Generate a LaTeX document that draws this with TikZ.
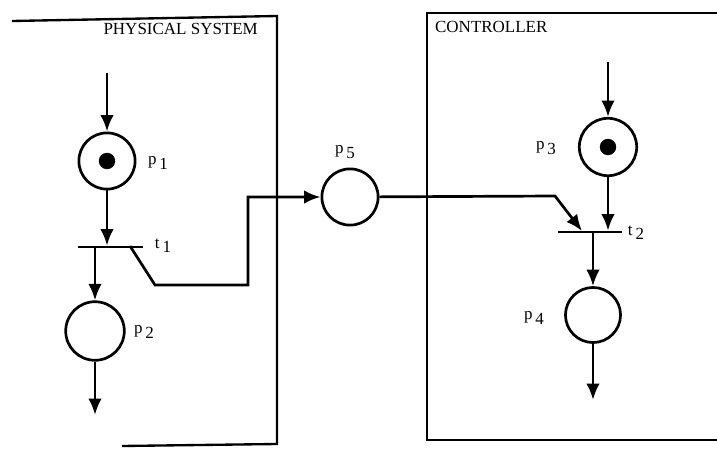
\documentclass[tikz,border=0pt]{standalone}
\usepackage{fontspec}
\setmainfont{Liberation Serif}
\usetikzlibrary{arrows.meta}
\newcommand{\sublab}[2]{#1\,\raisebox{-.55ex}{#2}}
\tikzset{
  place/.style={circle, draw, line width=2.3pt, minimum size=48pt, inner sep=0pt},
  token/.style={circle, fill=black, minimum width=14pt, minimum height=13pt, inner sep=0pt},
  trans/.style={rectangle, fill=black, minimum width=55pt, minimum height=2pt, inner sep=0pt},
  arc/.style={line width=2.3pt, -{Latex[length=14pt,width=11.5pt]}},
  frame/.style={line width=2pt},
  lab/.style={font=\fontsize{14.5}{16}\selectfont}
}
\begin{document}
\begin{tikzpicture}[x=0.03cm, y=-0.03cm]
\useasboundingbox (0,0) rectangle (717,450);
% the two boxes
\draw[frame] (12,21) -- (277,16) -- (277,444) -- (122,446);
\draw[frame] (717,13) -- (427,13) -- (427,440) -- (717,440);
\node[lab, anchor=base east] (phys) at (262,35) {PHYSICAL SYSTEM};
\node[lab, anchor=base west] (ctrl) at (431,33) {CONTROLLER};
% places and transitions
\node[place] (p1) at (107,161) {};
\node[token] at (p1) {};
\node[place, minimum size=50pt] (p2) at (95,331) {};
\node[place] (p5) at (350,197) {};
\node[place, minimum size=49pt] (p3) at (608,147) {};
\node[token] at (p3) {};
\node[place, minimum size=47pt] (p4) at (593,315) {};
\node[trans] (t1) at (110.5,247) {};
\node[trans] (t2) at (590,232) {};
% labels
\node[lab] (l1) at (158,163) {\sublab{p}{1}};
\node[lab] (l2) at (144,332) {\sublab{p}{2}};
\node[lab] (l5) at (345,152) {\sublab{p}{5}};
\node[lab] (l3) at (546,148) {\sublab{p}{3}};
\node[lab] (l4) at (534,318) {\sublab{p}{4}};
\node[lab] (lt1) at (163,246) {\sublab{t}{1}};
\node[lab] (lt2) at (636,233) {\sublab{t}{2}};
% arcs
\coordinate (in1) at (107,73);
\coordinate (out2) at (95,415);
\coordinate (in3) at (608,62);
\coordinate (out4) at (593,400);
\coordinate (k1) at (130,246);
\coordinate (k2) at (155,285);
\coordinate (k3) at (248,285);
\coordinate (k4) at (248,197);
\coordinate (k5) at (555,196);
\coordinate (k6) at (582,231);
\draw[arc] (in1) -- (p1);
\draw[arc] (p1) -- (p1 |- t1.north);
\draw[arc] (p2 |- t1.south) -- (p2);
\draw[arc] (p2) -- (out2);
\draw[arc] (in3) -- (p3);
\draw[arc] (p3) -- (p3 |- t2.north);
\draw[arc] (p4 |- t2.south) -- (p4);
\draw[arc] (p4) -- (out4);
\draw[arc] (k1) -- (k2) -- (k3) -- (k4) -- (p5);
\draw[arc] (p5) -- (k5) -- (k6);
\end{tikzpicture}
\end{document}
